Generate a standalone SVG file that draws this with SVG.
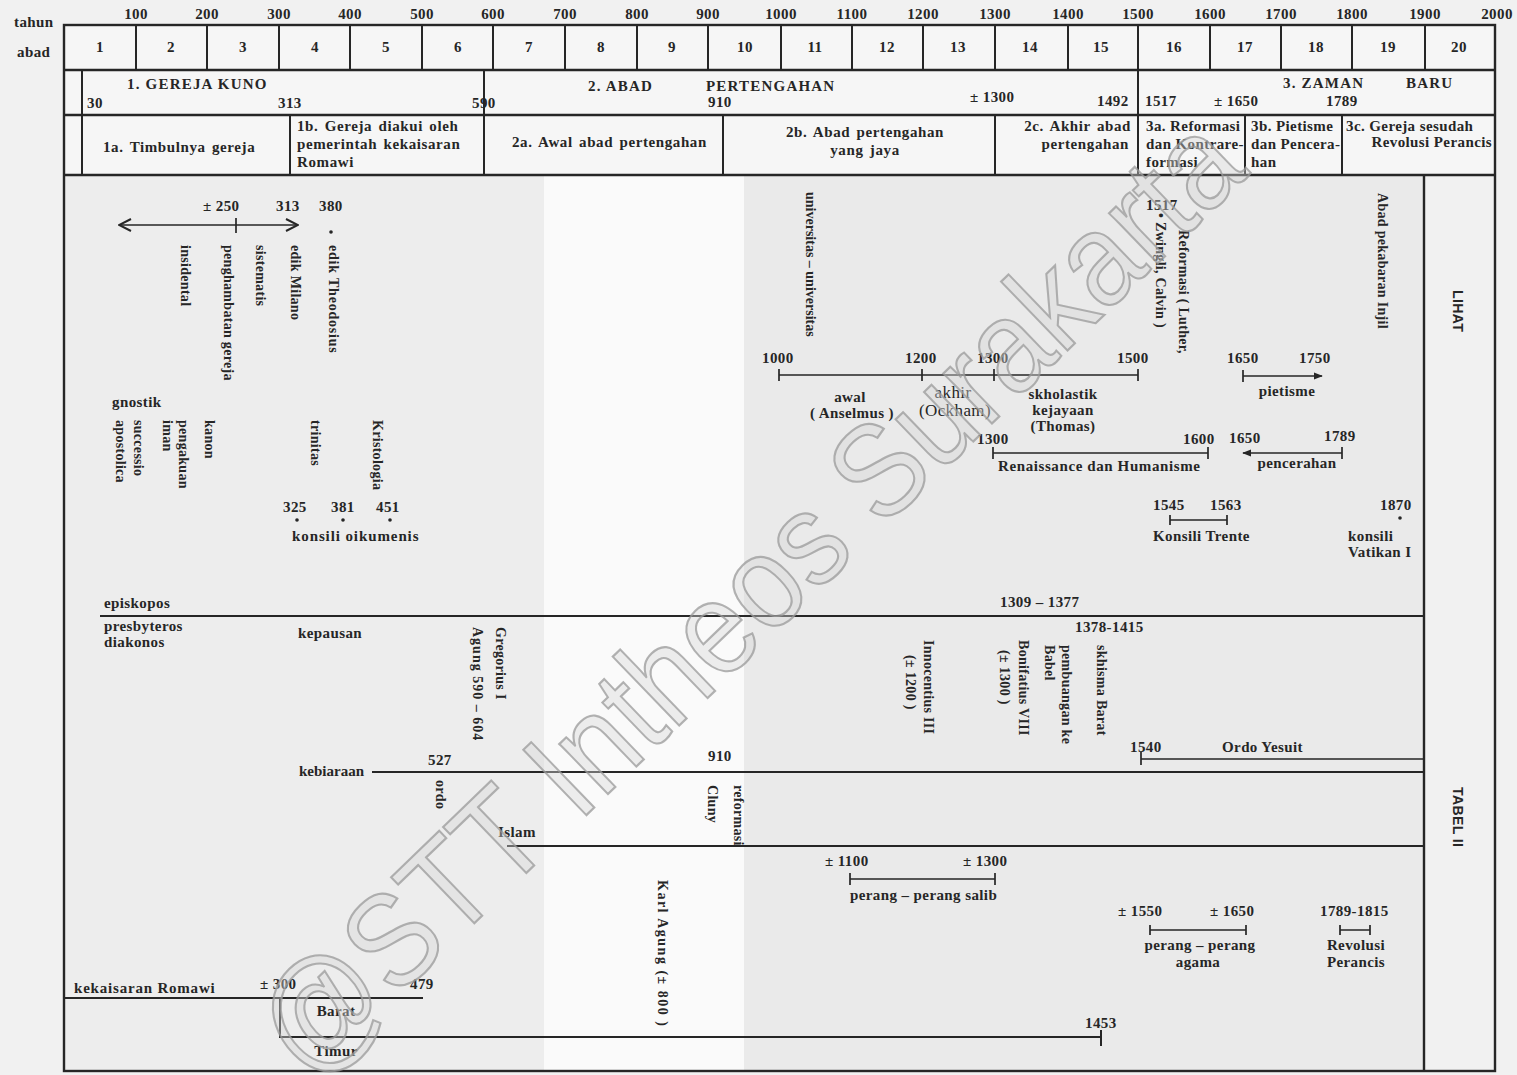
<svg xmlns="http://www.w3.org/2000/svg" width="1517" height="1075" viewBox="0 0 1517 1075">
<style>
 text{font-family:"Liberation Serif",serif;font-size:15px;font-weight:bold;fill:#262626;letter-spacing:0.4px}
 .r{font-size:14px;letter-spacing:0.3px}
 .hd{font-size:15px;letter-spacing:1.2px}
 .sub{font-size:15px;letter-spacing:0.6px;word-spacing:2px}
 .lt{font-weight:normal;font-size:17px}
 .sn{font-family:"Liberation Sans",sans-serif;font-size:14px}
 .fr{stroke:#262626;stroke-width:2.4;fill:none}
 .ln{stroke:#262626;stroke-width:1.7;fill:none}
 .dv{stroke:#262626;stroke-width:2;fill:none}
 .wm{font-family:"Liberation Sans",sans-serif;font-size:132px;font-weight:normal;fill:#d6d6d6;fill-opacity:0.4;stroke:#9a9a9a;stroke-width:2.2;stroke-opacity:0.75;letter-spacing:0}
</style>
<defs>
 <marker id="av" viewBox="0 0 14 14" refX="13" refY="7" markerWidth="14" markerHeight="14" orient="auto-start-reverse" markerUnits="userSpaceOnUse"><path d="M1,1 L13,7 L1,13" fill="none" stroke="#262626" stroke-width="2"/></marker>
 <marker id="as" viewBox="0 0 10 10" refX="9" refY="5" markerWidth="9" markerHeight="9" orient="auto-start-reverse" markerUnits="userSpaceOnUse"><path d="M0,1 L10,5 L0,9 Z" fill="#262626"/></marker>
</defs>
<rect x="0" y="0" width="1517" height="1075" fill="#f1f1f1"/>
<rect x="64" y="176" width="480" height="895" fill="#ededed"/>
<rect x="544" y="176" width="200" height="895" fill="#fafafa"/>
<rect x="744" y="176" width="680" height="895" fill="#eaeaea"/>
<rect x="64" y="25" width="1431" height="150" fill="#f6f6f6"/>

<g id="header">
 <text x="14" y="27">tahun</text>
 <text x="17" y="57">abad</text>
 <g text-anchor="middle">
  <text x="136" y="19">100</text><text x="207" y="19">200</text><text x="279" y="19">300</text><text x="350" y="19">400</text><text x="422" y="19">500</text><text x="493" y="19">600</text><text x="565" y="19">700</text><text x="637" y="19">800</text><text x="708" y="19">900</text><text x="781" y="19">1000</text><text x="852" y="19">1100</text><text x="923" y="19">1200</text><text x="995" y="19">1300</text><text x="1068" y="19">1400</text><text x="1138" y="19">1500</text><text x="1210" y="19">1600</text><text x="1281" y="19">1700</text><text x="1352" y="19">1800</text><text x="1425" y="19">1900</text><text x="1497" y="19">2000</text>
 </g>
 <g text-anchor="middle">
  <text x="100" y="52">1</text><text x="171" y="52">2</text><text x="243" y="52">3</text><text x="315" y="52">4</text><text x="386" y="52">5</text><text x="458" y="52">6</text><text x="529" y="52">7</text><text x="601" y="52">8</text><text x="672" y="52">9</text><text x="745" y="52">10</text><text x="815" y="52">11</text><text x="887" y="52">12</text><text x="958" y="52">13</text><text x="1030" y="52">14</text><text x="1101" y="52">15</text><text x="1174" y="52">16</text><text x="1245" y="52">17</text><text x="1316" y="52">18</text><text x="1388" y="52">19</text><text x="1459" y="52">20</text>
 </g>
</g>

<g id="frame">
 <rect class="fr" x="64" y="25" width="1431" height="1046"/>
 <line class="fr" x1="64" y1="70" x2="1495" y2="70"/>
 <line class="fr" x1="64" y1="115" x2="1495" y2="115"/>
 <line class="fr" x1="64" y1="175" x2="1495" y2="175"/>
 <path class="dv" d="M136,25V70M207,25V70M279,25V70M350,25V70M422,25V70M493,25V70M565,25V70M637,25V70M708,25V70M781,25V70M852,25V70M923,25V70M995,25V70M1068,25V70M1138,25V70M1210,25V70M1281,25V70M1352,25V70M1425,25V70"/>
 <path class="dv" d="M82,70V175M484,70V175M1138,70V175"/>
 <path class="dv" d="M290,115V175M723,115V175M995,115V175M1245,115V175M1342,115V175"/>
 <line class="fr" x1="1424" y1="175" x2="1424" y2="1071"/>
</g>

<g id="periods">
 <text class="hd" x="127" y="89">1. GEREJA KUNO</text>
 <text x="87" y="108">30</text>
 <text x="278" y="108">313</text>
 <text x="472" y="108">590</text>
 <text class="hd" y="91"><tspan x="588">2.  ABAD</tspan><tspan x="706">PERTENGAHAN</tspan></text>
 <text x="708" y="107">910</text>
 <text x="970" y="102">± 1300</text>
 <text x="1097" y="106">1492</text>
 <text class="hd" y="88"><tspan x="1283">3.  ZAMAN</tspan><tspan x="1406">BARU</tspan></text>
 <text x="1145" y="106">1517</text>
 <text x="1214" y="106">± 1650</text>
 <text x="1326" y="106">1789</text>
</g>

<g id="subperiods">
 <text class="sub" x="103" y="152">1a.  Timbulnya gereja</text>
 <text class="sub" x="297" y="131">1b.  Gereja diakui oleh</text>
 <text class="sub" x="297" y="149">pemerintah kekaisaran</text>
 <text class="sub" x="297" y="167">Romawi</text>
 <text class="sub" x="512" y="147">2a.  Awal abad pertengahan</text>
 <text class="sub" x="865" y="137" text-anchor="middle">2b.  Abad pertengahan</text>
 <text class="sub" x="865" y="155" text-anchor="middle">yang jaya</text>
 <text class="sub" x="1131" y="131" text-anchor="end">2c.  Akhir abad</text>
 <text class="sub" x="1129" y="149" text-anchor="end">pertengahan</text>
 <text x="1146" y="131">3a. Reformasi</text>
 <text x="1146" y="149">dan Kontrare-</text>
 <text x="1146" y="167">formasi</text>
 <text x="1251" y="131">3b. Pietisme</text>
 <text x="1251" y="149">dan Pencera-</text>
 <text x="1251" y="167">han</text>
 <text x="1346" y="131">3c. Gereja  sesudah</text>
 <text x="1492" y="147" text-anchor="end">Revolusi Perancis</text>
 <text class="sn" font-weight="bold" transform="translate(1453,290) rotate(90)">LIHAT</text>
 <text class="sn" font-weight="bold" transform="translate(1453,787) rotate(90)">TABEL  II</text>
</g>

<g id="connectors">
 <line class="ln" x1="119" y1="225" x2="298" y2="225" marker-start="url(#av)" marker-end="url(#av)"/>
 <line class="ln" x1="236" y1="218" x2="236" y2="233"/>
 <path class="ln" d="M779,375H1138M779,369V381M922,369V381M994,369V381M1138,369V381"/>
 <path class="ln" d="M993,453H1208M993,447V459M1208,447V459"/>
 <line class="ln" x1="1243" y1="376" x2="1322" y2="376" marker-end="url(#as)"/>
 <line class="ln" x1="1243" y1="370" x2="1243" y2="382"/>
 <line class="ln" x1="1243" y1="453" x2="1342" y2="453" marker-start="url(#as)"/>
 <line class="ln" x1="1342" y1="447" x2="1342" y2="459"/>
 <path class="ln" d="M1170,520H1227M1170,515V525M1227,515V525"/>
 <line class="dv" x1="100" y1="616" x2="1424" y2="616"/>
 <line class="dv" x1="372" y1="772" x2="1424" y2="772"/>
 <path class="ln" d="M1141,759H1424M1141,752V765"/>
 <line class="dv" x1="507" y1="846" x2="1424" y2="846"/>
 <path class="ln" d="M850,879H995M850,873V885M995,873V885"/>
 <path class="ln" d="M1150,930H1246M1150,925V935M1246,925V935"/>
 <path class="ln" d="M1340,930H1370M1340,925V935M1370,925V935"/>
 <line class="dv" x1="64" y1="998" x2="423" y2="998"/>
 <path class="dv" d="M280,998V1037H1101M1101,1030V1046"/>
 <g fill="#262626"><circle cx="331" cy="232" r="1.8"/><circle cx="297" cy="520" r="1.8"/><circle cx="343" cy="520" r="1.8"/><circle cx="390" cy="520" r="1.8"/><circle cx="1400" cy="518" r="1.8"/></g>
</g>

<g id="early-church">
 <text x="203" y="211">± 250</text>
 <text x="276" y="211">313</text>
 <text x="319" y="211">380</text>
 <text class="r" transform="translate(180.5,245) rotate(90)">insidental</text>
 <text class="r" transform="translate(223.5,245) rotate(90)">penghambatan gereja</text>
 <text class="r" transform="translate(255.5,245) rotate(90)">sistematis</text>
 <text class="r" transform="translate(290.5,245) rotate(90)">edik Milano</text>
 <text class="r" transform="translate(328.5,245) rotate(90)" style="letter-spacing:0.8px">edik Theodosius</text>
 <text x="112" y="407">gnostik</text>
 <text class="r" transform="translate(133.5,420) rotate(90)">successio</text>
 <text class="r" transform="translate(115.5,420) rotate(90)">apostolica</text>
 <text class="r" transform="translate(178.5,420) rotate(90)">pengakuan</text>
 <text class="r" transform="translate(162.5,420) rotate(90)">iman</text>
 <text class="r" transform="translate(204.5,420) rotate(90)">kanon</text>
 <text class="r" transform="translate(310.5,420) rotate(90)">trinitas</text>
 <text class="r" transform="translate(372.5,420) rotate(90)">Kristologia</text>
 <text x="283" y="512">325</text>
 <text x="331" y="512">381</text>
 <text x="376" y="512">451</text>
 <text x="292" y="541" style="letter-spacing:0.9px">konsili oikumenis</text>
</g>

<g id="scholastic">
 <text class="r" transform="translate(805.5,192) rotate(90)" style="letter-spacing:0">universitas – universitas</text>
 <text x="762" y="363">1000</text>
 <text x="905" y="363">1200</text>
 <text x="977" y="363">1300</text>
 <text x="1117" y="363">1500</text>
 <text x="850" y="402" text-anchor="middle">awal</text>
 <text x="852" y="418" text-anchor="middle">( Anselmus )</text>
 <text class="lt" x="953" y="398" text-anchor="middle">akhir</text>
 <text class="lt" x="955" y="416" text-anchor="middle">(Ockham)</text>
 <text x="1063" y="399" text-anchor="middle">skholastik</text>
 <text x="1063" y="415" text-anchor="middle">kejayaan</text>
 <text x="1063" y="431" text-anchor="middle">(Thomas)</text>
 <text x="977" y="444">1300</text>
 <text x="1183" y="444">1600</text>
 <text x="998" y="471" style="letter-spacing:0.6px">Renaissance dan Humanisme</text>
</g>

<g id="modern">
 <text x="1146" y="210">1517</text>
 <text class="r" transform="translate(1178.5,230) rotate(90)">Reformasi ( Luther,</text>
 <text class="r" transform="translate(1155.5,213) rotate(90)">• Zwingli, Calvin )</text>
 <text class="r" transform="translate(1377.5,193) rotate(90)">Abad pekabaran Injil</text>
 <text x="1227" y="363">1650</text>
 <text x="1299" y="363">1750</text>
 <text x="1287" y="396" text-anchor="middle">pietisme</text>
 <text x="1229" y="443">1650</text>
 <text x="1324" y="441">1789</text>
 <text x="1297" y="468" text-anchor="middle">pencerahan</text>
 <text x="1153" y="510">1545</text>
 <text x="1210" y="510">1563</text>
 <text x="1153" y="541">Konsili  Trente</text>
 <text x="1380" y="510">1870</text>
 <text x="1348" y="541">konsili</text>
 <text x="1348" y="557">Vatikan I</text>
</g>

<g id="church-offices">
 <text x="104" y="608">episkopos</text>
 <text x="104" y="631">presbyteros</text>
 <text x="104" y="647">diakonos</text>
 <text x="298" y="638">kepausan</text>
 <text class="r" transform="translate(495.5,627) rotate(90)">Gregorius I</text>
 <text class="r" transform="translate(473,627) rotate(90)" style="letter-spacing:1px">Agung 590 – 604</text>
 <text class="r" transform="translate(923.5,640) rotate(90)">Innocentius III</text>
 <text class="r" transform="translate(905.5,655) rotate(90)">(± 1200 )</text>
 <text x="1000" y="607">1309 – 1377</text>
 <text x="1075" y="632">1378-1415</text>
 <text class="r" transform="translate(1018.5,640) rotate(90)">Bonifatius VIII</text>
 <text class="r" transform="translate(999.5,650) rotate(90)">(± 1300 )</text>
 <text class="r" transform="translate(1061.5,645) rotate(90)">pembuangan ke</text>
 <text class="r" transform="translate(1044.5,645) rotate(90)">Babel</text>
 <text class="r" transform="translate(1096.5,645) rotate(90)">skhisma Barat</text>
</g>

<g id="monastic">
 <text x="299" y="776" style="letter-spacing:0">kebiaraan</text>
 <text x="428" y="765">527</text>
 <text class="r" transform="translate(435.5,780) rotate(90)">ordo</text>
 <text x="708" y="761">910</text>
 <text class="r" transform="translate(733.5,785) rotate(90)">reformasi</text>
 <text class="r" transform="translate(707.5,785) rotate(90)">Cluny</text>
 <text x="1130" y="752">1540</text>
 <text x="1222" y="752">Ordo  Yesuit</text>
 <text x="498" y="837">Islam</text>
</g>

<g id="wars">
 <text x="825" y="866">± 1100</text>
 <text x="963" y="866">± 1300</text>
 <text x="850" y="900">perang – perang  salib</text>
 <text x="1118" y="916">± 1550</text>
 <text x="1210" y="916">± 1650</text>
 <text x="1200" y="950" text-anchor="middle">perang – perang</text>
 <text x="1198" y="967" text-anchor="middle">agama</text>
 <text x="1320" y="916">1789-1815</text>
 <text x="1356" y="950" text-anchor="middle">Revolusi</text>
 <text x="1356" y="967" text-anchor="middle">Perancis</text>
 <text class="r" transform="translate(657.5,880) rotate(90)" style="letter-spacing:1.5px">Karl Agung (± 800 )</text>
</g>

<g id="empire">
 <text x="74" y="993" style="letter-spacing:0.8px">kekaisaran  Romawi</text>
 <text x="260" y="989">± 300</text>
 <text x="410" y="989">479</text>
 <text x="336" y="1016" text-anchor="middle">Barat</text>
 <text x="336" y="1056" text-anchor="middle">Timur</text>
 <text x="1085" y="1028">1453</text>
</g>

<text class="wm" text-anchor="middle" textLength="1310" lengthAdjust="spacingAndGlyphs" transform="translate(780,628) rotate(-44)">@STT Intheos Surakarta</text>
</svg>
